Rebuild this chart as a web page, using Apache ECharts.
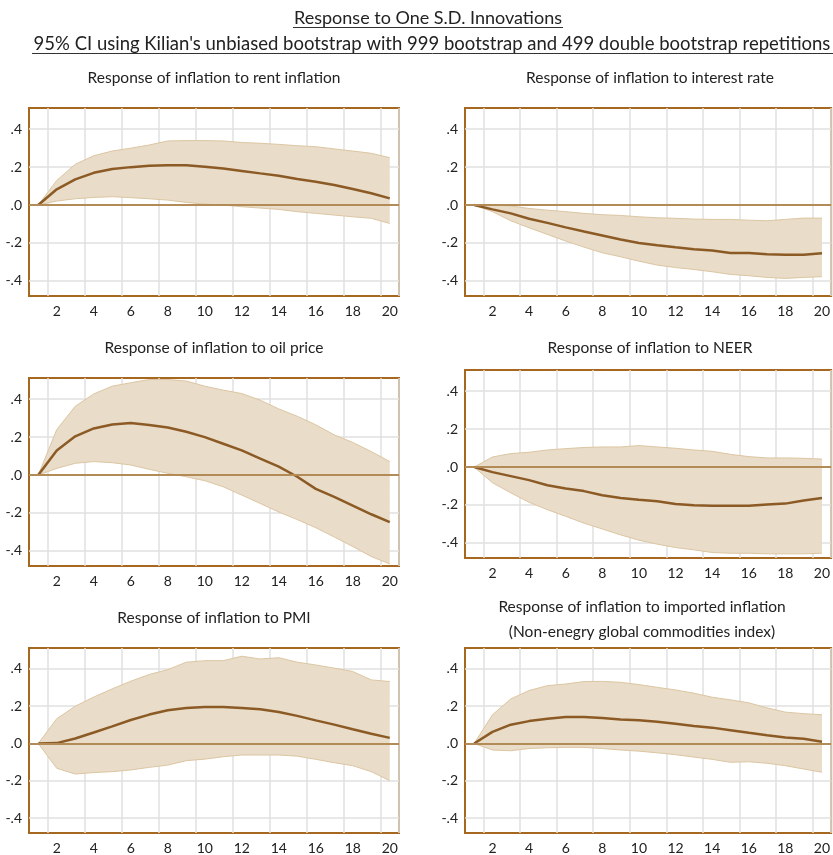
<!DOCTYPE html>
<html>
<head>
<meta charset="utf-8">
<script src="https://cdn.jsdelivr.net/npm/echarts@6/dist/echarts.min.js"></script>
<style>
  html, body { margin: 0; padding: 0; background: #fff; }
  #chart { width: 833px; height: 855px; }
</style>
</head>
<body>
<div id="chart"></div>
<script>
// horizon (periods after shock)
var steps = [1, 2, 3, 4, 5, 6, 7, 8, 9, 10, 11, 12, 13, 14, 15, 16, 17, 18, 19, 20];
var yTicks = [-0.4, -0.2, 0, 0.2, 0.4];

// rent inflation
var rentMean  = [0, 0.083, 0.135, 0.17, 0.19, 0.2, 0.207, 0.21, 0.21, 0.202, 0.193, 0.18, 0.167, 0.155, 0.137, 0.123, 0.106, 0.085, 0.062, 0.035];
var rentUpper = [0, 0.13, 0.215, 0.26, 0.285, 0.3, 0.317, 0.338, 0.34, 0.34, 0.338, 0.33, 0.326, 0.32, 0.313, 0.308, 0.296, 0.285, 0.273, 0.25];
var rentLower = [0, 0.021, 0.033, 0.04, 0.044, 0.039, 0.033, 0.026, 0.014, 0.005, 0, -0.009, -0.016, -0.023, -0.035, -0.044, -0.053, -0.062, -0.07, -0.097];

// interest rate
var rateMean  = [0, -0.023, -0.044, -0.072, -0.094, -0.118, -0.14, -0.161, -0.182, -0.2, -0.212, -0.223, -0.233, -0.24, -0.253, -0.253, -0.26, -0.262, -0.262, -0.255];
var rateUpper = [0, 0, -0.005, -0.018, -0.027, -0.035, -0.044, -0.051, -0.055, -0.062, -0.067, -0.07, -0.074, -0.076, -0.076, -0.08, -0.083, -0.076, -0.069, -0.069];
var rateLower = [0, -0.035, -0.083, -0.12, -0.155, -0.19, -0.222, -0.252, -0.273, -0.296, -0.317, -0.33, -0.34, -0.352, -0.366, -0.373, -0.382, -0.387, -0.382, -0.378];

// oil price
var oilMean  = [0, 0.13, 0.204, 0.246, 0.267, 0.274, 0.264, 0.251, 0.228, 0.2, 0.165, 0.13, 0.087, 0.044, -0.009, -0.073, -0.115, -0.161, -0.207, -0.248];
var oilUpper = [0, 0.24, 0.363, 0.428, 0.469, 0.487, 0.504, 0.504, 0.496, 0.469, 0.448, 0.43, 0.395, 0.349, 0.31, 0.265, 0.212, 0.172, 0.124, 0.071];
var oilLower = [0, 0.035, 0.062, 0.071, 0.065, 0.053, 0.03, 0.009, -0.009, -0.03, -0.062, -0.106, -0.15, -0.195, -0.235, -0.278, -0.327, -0.377, -0.43, -0.469];

// NEER
var neerMean  = [0, -0.027, -0.048, -0.069, -0.096, -0.113, -0.127, -0.149, -0.163, -0.173, -0.18, -0.195, -0.202, -0.204, -0.204, -0.204, -0.198, -0.193, -0.177, -0.163];
var neerUpper = [0, 0.053, 0.071, 0.078, 0.09, 0.097, 0.103, 0.106, 0.106, 0.113, 0.106, 0.099, 0.09, 0.083, 0.067, 0.055, 0.048, 0.048, 0.046, 0.042];
var neerLower = [0, -0.083, -0.136, -0.186, -0.225, -0.26, -0.296, -0.327, -0.358, -0.386, -0.407, -0.425, -0.437, -0.451, -0.455, -0.455, -0.458, -0.458, -0.458, -0.455];

// PMI
var pmiMean  = [0, 0.002, 0.027, 0.059, 0.092, 0.126, 0.155, 0.178, 0.19, 0.196, 0.196, 0.19, 0.183, 0.169, 0.148, 0.124, 0.101, 0.076, 0.052, 0.03];
var pmiUpper = [0, 0.133, 0.2, 0.249, 0.293, 0.334, 0.37, 0.396, 0.436, 0.444, 0.444, 0.468, 0.453, 0.46, 0.436, 0.421, 0.404, 0.386, 0.341, 0.332];
var pmiLower = [0, -0.133, -0.164, -0.156, -0.151, -0.142, -0.128, -0.116, -0.092, -0.084, -0.071, -0.062, -0.062, -0.062, -0.068, -0.085, -0.103, -0.119, -0.151, -0.199];

// imported inflation (non-energy commodities)
var impMean  = [0, 0.062, 0.101, 0.12, 0.133, 0.142, 0.142, 0.137, 0.129, 0.124, 0.117, 0.106, 0.094, 0.085, 0.071, 0.057, 0.044, 0.032, 0.025, 0.009];
var impUpper = [0, 0.154, 0.239, 0.284, 0.31, 0.319, 0.332, 0.333, 0.328, 0.316, 0.301, 0.287, 0.27, 0.248, 0.234, 0.218, 0.191, 0.168, 0.16, 0.154];
var impLower = [0, -0.035, -0.039, -0.027, -0.023, -0.021, -0.021, -0.027, -0.035, -0.041, -0.05, -0.06, -0.073, -0.085, -0.101, -0.098, -0.106, -0.119, -0.137, -0.154];

var panels = [
    { mean: rentMean, lower: rentLower, upper: rentUpper, left: 29, top: 108 },
    { mean: rateMean, lower: rateLower, upper: rateUpper, left: 465, top: 108 },
    { mean: oilMean, lower: oilLower, upper: oilUpper, left: 29, top: 378 },
    { mean: neerMean, lower: neerLower, upper: neerUpper, left: 465, top: 370 },
    { mean: pmiMean, lower: pmiLower, upper: pmiUpper, left: 29, top: 648 },
    { mean: impMean, lower: impLower, upper: impUpper, left: 465, top: 648 }
];

var myChart = echarts.init(document.getElementById('chart'), null, { renderer: 'canvas' });

var FONT = 'Lato, "Open Sans", sans-serif';
var evenIdx = function (idx) { return idx % 2 === 1; };

var grids = [], xAxes = [], yAxes = [], series = [];
panels.forEach(function (p, i) {
    grids.push({
        left: p.left, top: p.top, width: 370, height: 188,
        show: true, borderColor: '#a5681e', borderWidth: 2, backgroundColor: 'transparent'
    });
    xAxes.push({
        type: 'category', gridIndex: i, data: steps, boundaryGap: true,
        axisLine: { show: false }, axisTick: { show: false },
        axisLabel: { interval: evenIdx, margin: 8, color: '#222', fontSize: 14, fontFamily: FONT },
        splitLine: { show: true, interval: evenIdx, lineStyle: { color: '#e0e0e0', width: 1.5 } }
    });
    yAxes.push({
        type: 'value', gridIndex: i, min: -0.48, max: 0.512,
        axisLine: { show: false },
        axisTick: { show: false, customValues: yTicks },
        axisLabel: {
            customValues: yTicks, margin: 7, color: '#222', fontSize: 14, fontFamily: FONT,
            formatter: function (v) { return v.toFixed(1).replace('0.', '.'); }
        },
        splitLine: { show: true, lineStyle: { color: '#e0e0e0', width: 1.5 } }
    });
    var bandDiff = p.upper.map(function (u, k) { return u - p.lower[k]; });
    series.push({
        type: 'line', xAxisIndex: i, yAxisIndex: i, data: p.lower,
        stack: 'band' + i, stackStrategy: 'all', symbol: 'none', silent: true,
        lineStyle: { color: '#dcc6a3', width: 1 }, z: 2
    });
    series.push({
        type: 'line', xAxisIndex: i, yAxisIndex: i, data: bandDiff,
        stack: 'band' + i, stackStrategy: 'all', symbol: 'none', silent: true,
        lineStyle: { color: '#dcc6a3', width: 1 },
        areaStyle: { color: '#e9dcc8', opacity: 1 }, z: 2
    });
    series.push({
        type: 'line', xAxisIndex: i, yAxisIndex: i, data: p.mean,
        symbol: 'none', silent: true,
        lineStyle: { color: '#8c5a25', width: 2.5 }, z: 4,
        markLine: {
            silent: true, symbol: 'none', label: { show: false },
            lineStyle: { color: '#b38b57', width: 2, type: 'solid' },
            data: [{ yAxis: 0 }]
        }
    });
});

function txt(x, y, s, size) {
    return {
        type: 'text', x: x, y: y,
        style: { text: s, font: size + 'px ' + FONT, fill: '#222', textAlign: 'center', textVerticalAlign: 'middle' }
    };
}
function uline(x1, x2, y) {
    return { type: 'line', shape: { x1: x1, y1: y, x2: x2, y2: y }, style: { stroke: '#333', lineWidth: 1 } };
}

var option = {
    backgroundColor: '#fff',
    animation: false,
    grid: grids,
    xAxis: xAxes,
    yAxis: yAxes,
    series: series,
    graphic: [
        txt(428, 18, 'Response to One S.D. Innovations', 18),
        uline(293, 563, 27.5),
        txt(432, 44, "95% CI using Kilian's unbiased bootstrap with 999 bootstrap and 499 double bootstrap repetitions", 18.5),
        uline(32, 833, 53.5),
        txt(214, 78, 'Response of inflation to rent inflation', 15.5),
        txt(650, 78, 'Response of inflation to interest rate', 15.5),
        txt(214, 348, 'Response of inflation to oil price', 15.5),
        txt(650, 348, 'Response of inflation to NEER', 15.5),
        txt(214, 618, 'Response of inflation to PMI', 15.5),
        txt(642, 607, 'Response of inflation to imported inflation', 15.5),
        txt(642, 632, '(Non-enegry global commodities index)', 15.5)
    ]
};
myChart.setOption(option);

window.addEventListener('resize', function () {
    if (myChart) {
        myChart.resize();
    }
});
</script>
</body>
</html>
